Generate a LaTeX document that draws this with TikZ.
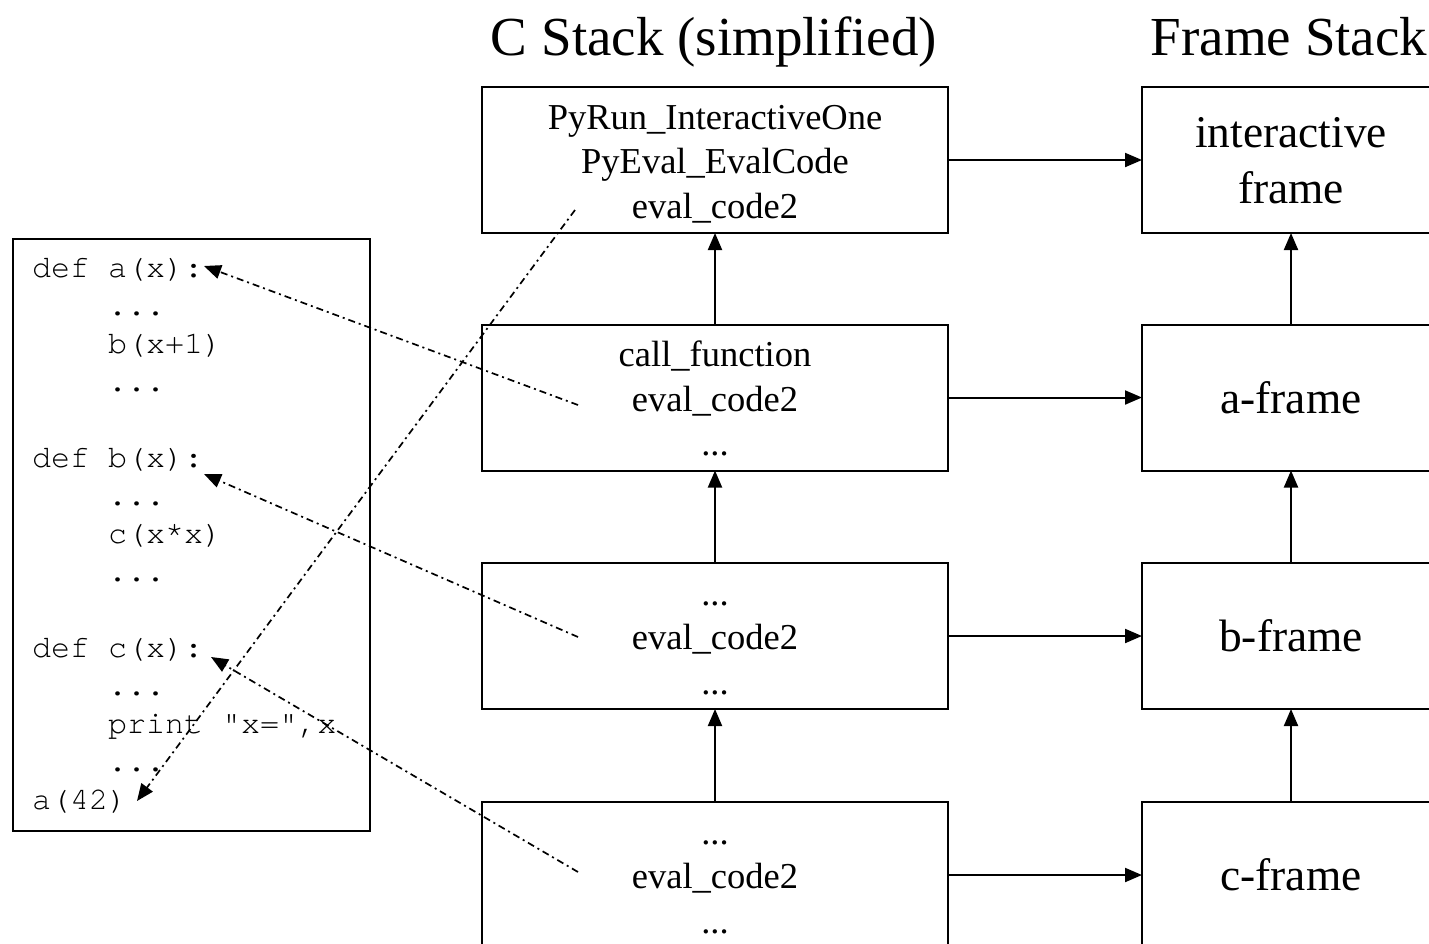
\documentclass[tikz,border=0pt]{standalone}
\usepackage{fontspec}
\setmainfont{Liberation Serif}
\setmonofont{TeX Gyre Cursor}
\usetikzlibrary{arrows.meta}
\newcommand{\ctop}{\rule{0pt}{40.5pt}}
\newcommand{\ftop}{\rule{0pt}{48.5pt}}
\begin{document}
\begin{tikzpicture}[x=1pt,y=-1pt,
  every node/.style={inner sep=0pt, outer sep=0pt},
  cbox/.style={draw, line width=2pt, minimum width=466pt, minimum height=146pt, align=center,
     font=\fontsize{36.5}{44.5}\selectfont},
  fbox/.style={draw, line width=2pt, minimum width=298pt, minimum height=146pt, align=center,
     font=\fontsize{45.4}{56}\selectfont},
  title/.style={anchor=base, font=\fontsize{55}{60}\selectfont},
  codeln/.style={anchor=base west, font=\fontsize{31.7}{38}\ttfamily},
  link/.style={line width=2pt, -{Triangle[length=17pt,width=14pt]}},
  callref/.style={line width=1.7pt, dash pattern=on 7pt off 4pt on 2pt off 4pt,
     -{Triangle[length=17pt,width=14pt]}}
]
\clip (0,0) rectangle (1429,943);
\fill[white] (0,0) rectangle (1429,943);

% titles
\node[title] (tc) at (714,55) {C Stack (simplified)};
\node[title] (tf) at (1289,55) {Frame Stack};

% C stack
\node[cbox] (c1) at (715,160) {\ctop PyRun\_InteractiveOne\\PyEval\_EvalCode\\eval\_code2\strut};
\node[cbox] (c2) at (715,397.5) {\ctop call\_function\\eval\_code2\\...\strut};
\node[cbox] (c3) at (715,636) {\ctop ...\\eval\_code2\\...\strut};
\node[cbox] (c4) at (715,875) {\ctop ...\\eval\_code2\\...\strut};

% frame stack
\node[fbox] (f1) at (1291,160) {\ftop interactive\\frame\strut};
\node[fbox] (f2) at (1291,397.5) {\ftop\strut a-frame};
\node[fbox] (f3) at (1291,636) {\ftop\strut b-frame};
\node[fbox] (f4) at (1291,875) {\ftop\strut c-frame};

% arrows
\draw[link] (c1.east) -- (f1.west);
\draw[link] (c2.east) -- (f2.west);
\draw[link] (c3.east) -- (f3.west);
\draw[link] (c4.east) -- (f4.west);
\draw[link] (c2.north) -- (c1.south);
\draw[link] (c3.north) -- (c2.south);
\draw[link] (c4.north) -- (c3.south);
\draw[link] (f2.north) -- (f1.south);
\draw[link] (f3.north) -- (f2.south);
\draw[link] (f4.north) -- (f3.south);

% code box
\node[draw, line width=2pt, minimum width=357pt, minimum height=592pt] (code) at (191.5,534.5) {};
\node[codeln] (l1) at (32,277) {def a(x):};
\node[codeln] (l2) at (32,315) {\ \ \ \ ...};
\node[codeln] (l3) at (32,353) {\ \ \ \ b(x+1)};
\node[codeln] (l4) at (32,391) {\ \ \ \ ...};
\node[codeln] (l6) at (32,467) {def b(x):};
\node[codeln] (l7) at (32,505) {\ \ \ \ ...};
\node[codeln] (l8) at (32,543) {\ \ \ \ c(x*x)};
\node[codeln] (l9) at (32,581) {\ \ \ \ ...};
\node[codeln] (l11) at (32,657) {def c(x):};
\node[codeln] (l12) at (32,695) {\ \ \ \ ...};
\node[codeln] (l13) at (32,733) {\ \ \ \ print "x=",x};
\node[codeln] (l14) at (32,771) {\ \ \ \ ...};
\node[codeln] (l15) at (32,809) {a(42)};

% call reference endpoints
\coordinate (s1) at (575,210);
\coordinate (t1) at (137,801);
\coordinate (s2) at (578,405);
\coordinate (t2) at (204,266);
\coordinate (s3) at (578,637);
\coordinate (t3) at (204,474);
\coordinate (s4) at (578,872);
\coordinate (t4) at (211,657);
\draw[callref] (s1) -- (t1);
\draw[callref] (s2) -- (t2);
\draw[callref] (s3) -- (t3);
\draw[callref] (s4) -- (t4);
\end{tikzpicture}
\end{document}
